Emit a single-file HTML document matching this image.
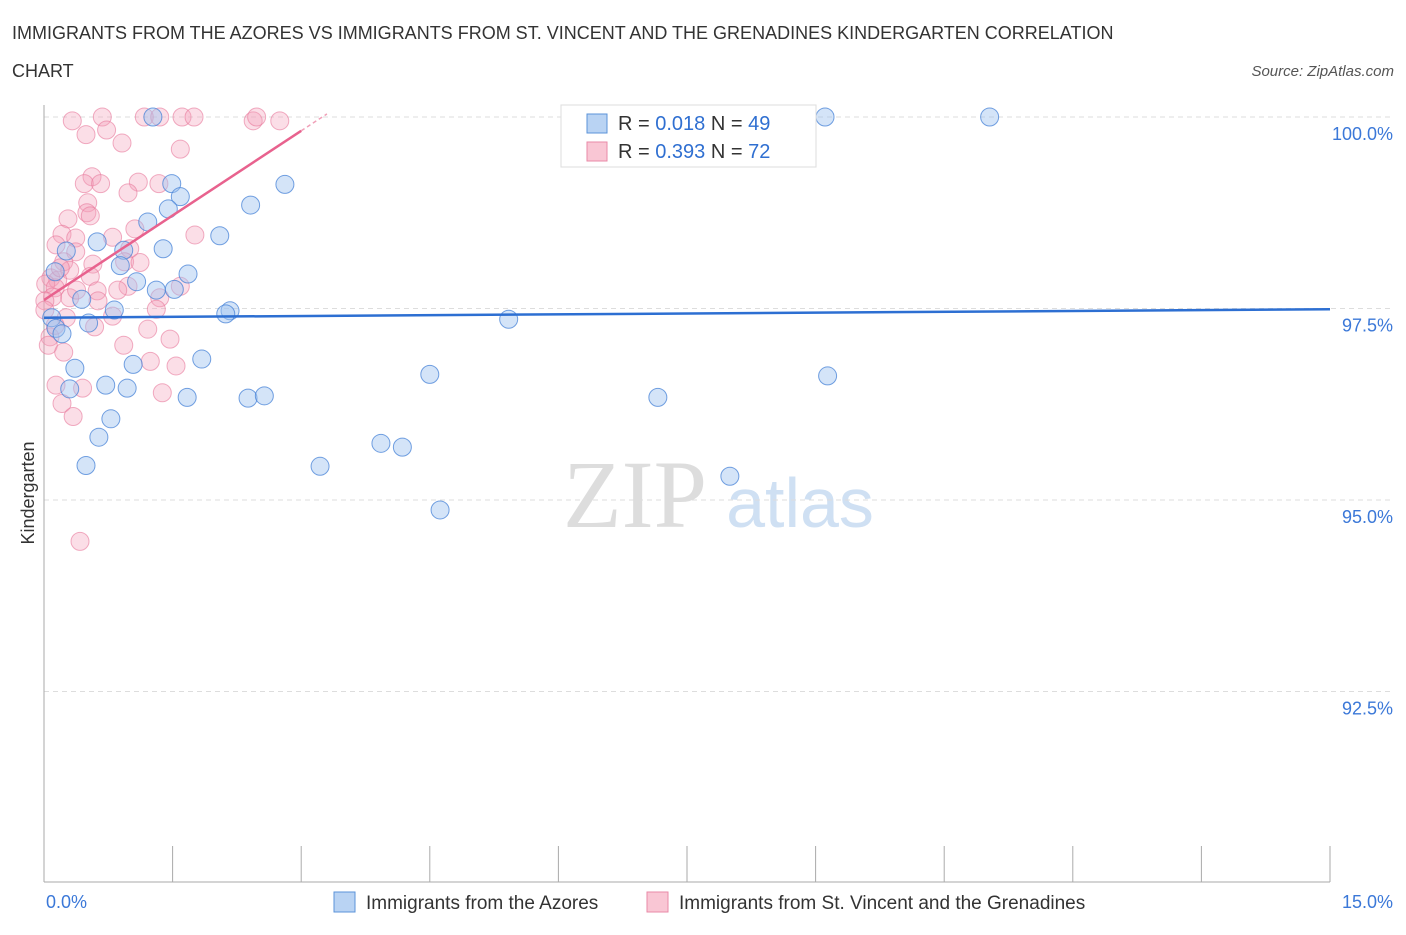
<!DOCTYPE html>
<html><head><meta charset="utf-8"><style>
body{margin:0;background:#fff;font-family:"Liberation Sans",sans-serif;}
</style></head><body>
<svg id="chart" width="1406" height="930" xmlns="http://www.w3.org/2000/svg">
<text x="12" y="39" font-size="18" fill="#333">IMMIGRANTS FROM THE AZORES VS IMMIGRANTS FROM ST. VINCENT AND THE GRENADINES KINDERGARTEN CORRELATION</text>
<text x="12" y="77" font-size="18" fill="#333">CHART</text>
<text x="1394" y="76" font-size="15" fill="#555" font-style="italic" text-anchor="end">Source: ZipAtlas.com</text>
<text x="635" y="527" font-size="96" fill="#ddd" font-family="Liberation Serif,serif" text-anchor="middle">ZIP</text>
<text x="800" y="527" font-size="70" fill="#cfe0f3" text-anchor="middle">atlas</text>
<g id="grid"></g><g id="axes"></g><g id="pts"></g><g id="trend"></g>
<text x="34" y="493" font-size="18" fill="#333" text-anchor="middle" transform="rotate(-90 34 493)">Kindergarten</text>
<g>
<rect x="561" y="105" width="255" height="62" fill="#fff" stroke="#ddd"/>
<rect x="587" y="114" width="20" height="19" fill="#b9d3f3" stroke="#5b93d8"/>
<rect x="587" y="142" width="20" height="19" fill="#f9c6d4" stroke="#e98aa7"/>
<text x="618" y="130" font-size="20" fill="#333">R = <tspan fill="#2f6fd1">0.018</tspan>   N = <tspan fill="#2f6fd1">49</tspan></text>
<text x="618" y="158" font-size="20" fill="#333">R = <tspan fill="#2f6fd1">0.393</tspan>   N = <tspan fill="#2f6fd1">72</tspan></text>
</g>
<g>
<rect x="334" y="892" width="21" height="20" fill="#b9d3f3" stroke="#5b93d8"/>
<text x="366" y="909" font-size="19" fill="#333">Immigrants from the Azores</text>
<rect x="647" y="892" width="21" height="20" fill="#f9c6d4" stroke="#e98aa7"/>
<text x="679" y="909" font-size="19" fill="#333">Immigrants from St. Vincent and the Grenadines</text>
</g>
</svg>
<script>
const yTicks=[100,97.5,95,92.5];
const yTickLabels=["100.0%","97.5%","95.0%","92.5%"];
const xTickLabels=["0.0%","15.0%"];
const blueX=[1.27,9.11,11.03,1.49,2.81,1.59,1.45,2.41,1.21,2.05,0.62,1.39,0.93,0.26,0.89,1.68,1.08,1.31,1.52,0.13,0.44,0.82,2.17,2.12,5.42,0.52,0.09,0.14,0.21,1.84,1.04,0.36,4.50,9.14,0.72,0.97,0.30,1.67,7.16,2.38,2.57,0.78,0.64,3.93,4.18,0.49,3.22,8.00,4.62];
const blueY=[100.0,100.0,100.0,99.13,99.12,98.96,98.80,98.85,98.63,98.45,98.37,98.28,98.26,98.25,98.06,97.95,97.85,97.74,97.75,97.98,97.62,97.48,97.47,97.43,97.36,97.31,97.38,97.24,97.17,96.84,96.77,96.72,96.64,96.62,96.50,96.46,96.45,96.34,96.34,96.33,96.36,96.06,95.82,95.74,95.69,95.45,95.44,95.31,94.87];
const pinkX=[0.33,0.68,1.17,1.35,1.61,1.75,2.44,2.48,2.75,0.49,0.73,0.91,1.59,0.56,0.47,0.66,1.10,1.34,0.98,0.51,0.50,0.28,0.54,1.06,0.21,0.37,0.80,0.14,1.76,0.37,1.00,0.23,0.57,0.30,0.94,0.08,0.16,0.54,0.02,0.13,0.62,0.98,0.10,0.30,1.35,0.63,0.01,1.31,0.26,0.80,0.59,1.21,0.07,1.47,0.93,0.05,0.23,1.24,1.54,0.14,0.45,1.38,0.21,0.34,0.42,0.01,0.13,1.59,0.86,0.38,0.19,1.12];
const pinkY=[99.95,100.0,100.0,100.0,100.0,100.0,99.95,100.0,99.95,99.77,99.83,99.66,99.58,99.22,99.13,99.13,99.15,99.13,99.01,98.88,98.75,98.67,98.71,98.54,98.47,98.42,98.43,98.33,98.46,98.24,98.28,98.11,98.08,98.00,98.11,97.90,97.87,97.92,97.82,97.77,97.73,97.79,97.65,97.64,97.64,97.60,97.60,97.49,97.38,97.40,97.26,97.23,97.13,97.10,97.02,97.02,96.93,96.81,96.75,96.50,96.46,96.40,96.26,96.09,94.46,97.48,97.28,97.79,97.74,97.74,98.03,98.10];
const blueTrend=[[0,97.38],[15,97.49]];
const pinkTrend=[[0,97.61],[3.0,99.82]];
const pinkTrendDash=[[3.0,99.82],[3.3,100.04]];
const X0=44,X1=1330,Y100=117,PX=191.5/2.5;
const sx=v=>X0+(X1-X0)*v/15;
const sy=v=>Y100+(100-v)*PX;
const NS="http://www.w3.org/2000/svg";
function mk(tag,parent,attrs){const e=document.createElementNS(NS,tag);for(const k in attrs)e.setAttribute(k,attrs[k]);document.getElementById(parent).appendChild(e);return e;}
yTicks.forEach((t,i)=>{
 const l=mk('line','grid',{x1:X0,x2:X1+60,y1:sy(t),y2:sy(t),stroke:'#ddd','stroke-dasharray':'5,4'});
 
 
 const tx=mk('text','grid',{x:1393,y:sy(t)+23,'font-size':18,fill:'#3b78d8','text-anchor':'end'});
 tx.textContent=yTickLabels[i];
 
 
});
const ya=mk('line','axes',{x1:X0,x2:X0,y1:105,y2:882,stroke:'#aaa'});


const xa=mk('line','axes',{x1:X0,x2:X1,y1:882,y2:882,stroke:'#aaa'});


for(let i=0;i<=10;i++){
 const t=mk('line','axes',{x1:sx(i*1.5),x2:sx(i*1.5),y1:846,y2:882,stroke:'#aaa'});
 
 
}
[[0,'start',46],[15,'end',1393]].forEach((a,i)=>{
 const tx=mk('text','axes',{x:a[2],y:908,'font-size':18,fill:'#3b78d8','text-anchor':a[1]});
 tx.textContent=xTickLabels[i];
 
 
});
pinkX.forEach((x,i)=>{
 const c=mk('circle','pts',{cx:sx(x),cy:sy(pinkY[i]),r:9,fill:'rgba(244,160,186,0.35)',stroke:'rgba(232,120,155,0.6)','stroke-width':1});
 
 
});
blueX.forEach((x,i)=>{
 const c=mk('circle','pts',{cx:sx(x),cy:sy(blueY[i]),r:9,fill:'rgba(160,195,240,0.45)',stroke:'rgba(70,130,215,0.75)','stroke-width':1});
 
 
});
const bl=mk('line','trend',{x1:sx(blueTrend[0][0]),y1:sy(blueTrend[0][1]),x2:sx(blueTrend[1][0]),y2:sy(blueTrend[1][1]),stroke:'#2d6fd2','stroke-width':2.5});


const pl=mk('line','trend',{x1:sx(pinkTrend[0][0]),y1:sy(pinkTrend[0][1]),x2:sx(pinkTrend[1][0]),y2:sy(pinkTrend[1][1]),stroke:'#e8628e','stroke-width':2.5});


const pd=mk('line','trend',{x1:sx(pinkTrendDash[0][0]),y1:sy(pinkTrendDash[0][1]),x2:sx(pinkTrendDash[1][0]),y2:sy(pinkTrendDash[1][1]),stroke:'#f0a0b8','stroke-width':1.5,'stroke-dasharray':'4,3'});


</script>
</body></html>
